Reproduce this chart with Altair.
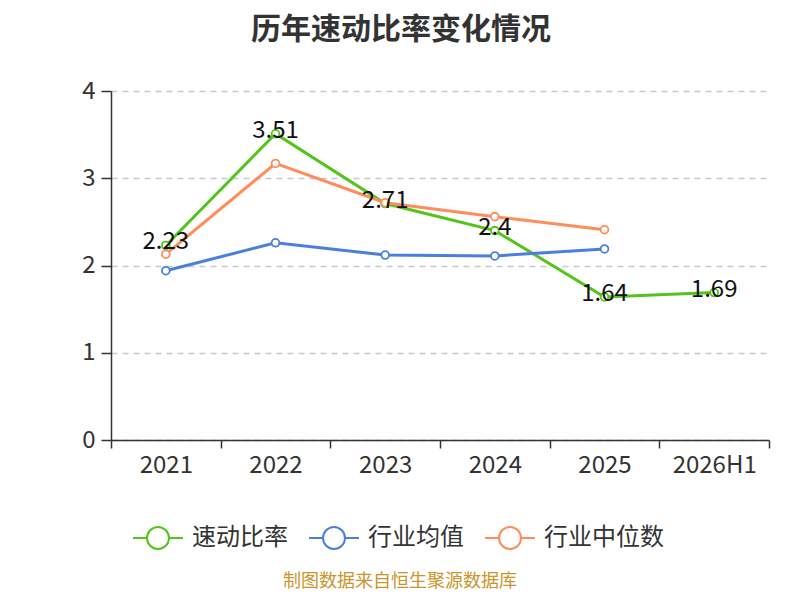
import altair as alt
import pandas as pd

categories = ["2021", "2022", "2023", "2024", "2025", "2026H1"]
series_names = ["速动比率", "行业均值", "行业中位数"]
quick_ratio = [2.23, 3.51, 2.71, 2.4, 1.64, 1.69]
industry_mean = [1.94, 2.26, 2.12, 2.11, 2.19]
industry_median = [2.13, 3.17, 2.72, 2.56, 2.41]
colors = ["#52c41a", "#4a7fe0", "#ff8c5a"]
title_text = "历年速动比率变化情况"
footer_text = ["制图数据来自恒生聚源数据库"]

rows = []
for name, vals in zip(series_names, [quick_ratio, industry_mean, industry_median]):
    for c, v in zip(categories, vals):
        rows.append({"year": c, "series": name, "value": v})
df = pd.DataFrame(rows)
label_df = pd.DataFrame({"year": categories, "value": quick_ratio,
                         "label": [f"{v:g}" for v in quick_ratio]})
footer_df = pd.DataFrame({"text": footer_text})

FONT = "Noto Sans CJK SC"

x_enc = alt.X("year:N", sort=categories, bandPosition=0.5,
              scale=alt.Scale(type="band", paddingInner=0, paddingOuter=0),
              axis=alt.Axis(title=None, labelAngle=0, tickBand="extent",
                            labelFontSize=24, labelColor="#333333", labelFont=FONT,
                            domainColor="#333333", tickColor="#333333",
                            domainWidth=1.5, tickWidth=1.5, tickSize=8, labelPadding=5))
y_enc = alt.Y("value:Q", scale=alt.Scale(domain=[0, 4]),
              axis=alt.Axis(title=None, values=[0, 1, 2, 3, 4], format="d",
                            labelFontSize=24, labelColor="#333333", labelFont=FONT,
                            domainColor="#333333", tickColor="#333333",
                            domainWidth=1.5, tickWidth=1.5, tickSize=10, labelPadding=6,
                            grid=True, gridColor="#c8c8c8", gridDash=[6, 5], gridWidth=1.5))

color_enc = alt.Color("series:N", sort=series_names,
                      scale=alt.Scale(domain=series_names, range=colors),
                      legend=alt.Legend(title=None, orient="none", direction="horizontal",
                                        legendX=21, legendY=421,
                                        symbolType="M-1,0L-0.44,0M0.44,0L1,0M0.44,0A0.44,0.44,0,1,1,-0.44,0A0.44,0.44,0,1,1,0.44,0",
                                        symbolSize=2500, symbolStrokeWidth=2,
                                        symbolFillColor="white",
                                        labelFontSize=24, labelColor="#333333", labelFont=FONT,
                                        columnPadding=17, labelOffset=8))

base = alt.Chart(df)
lines = base.mark_line(strokeWidth=3).encode(x=x_enc, y=y_enc, color=color_enc)
points = base.mark_point(filled=True, fill="white", size=60, strokeWidth=1.8, opacity=1).encode(
    x=alt.X("year:N", sort=categories, bandPosition=0.5),
    y="value:Q",
    stroke=alt.Stroke("series:N", scale=alt.Scale(domain=series_names, range=colors), legend=None),
)
labels = alt.Chart(label_df).mark_text(fontSize=24, font=FONT, color="#111111", dy=-3,
                                        baseline="middle").encode(
    x=alt.X("year:N", sort=categories, bandPosition=0.5),
    y="value:Q",
    text="label:N",
)
footer = alt.Chart(footer_df).mark_text(fontSize=18, font=FONT, color="#c9952d",
                                         baseline="middle").encode(
    x=alt.value(289), y=alt.value(491), text="text:N")

chart = alt.layer(lines, points, labels, footer).properties(
    width=658, height=349,
    padding={"left": 103, "top": 83, "right": 23, "bottom": 152},
    autosize=alt.AutoSizeParams(type="none"),
    title=alt.TitleParams(title_text, fontSize=30, fontWeight="bold", font=FONT,
                          color="#333333", anchor="middle", dx=-39, offset=34),
).configure_view(stroke=None)

chart.save("out.html", embed_options={"renderer": "svg", "actions": False})
